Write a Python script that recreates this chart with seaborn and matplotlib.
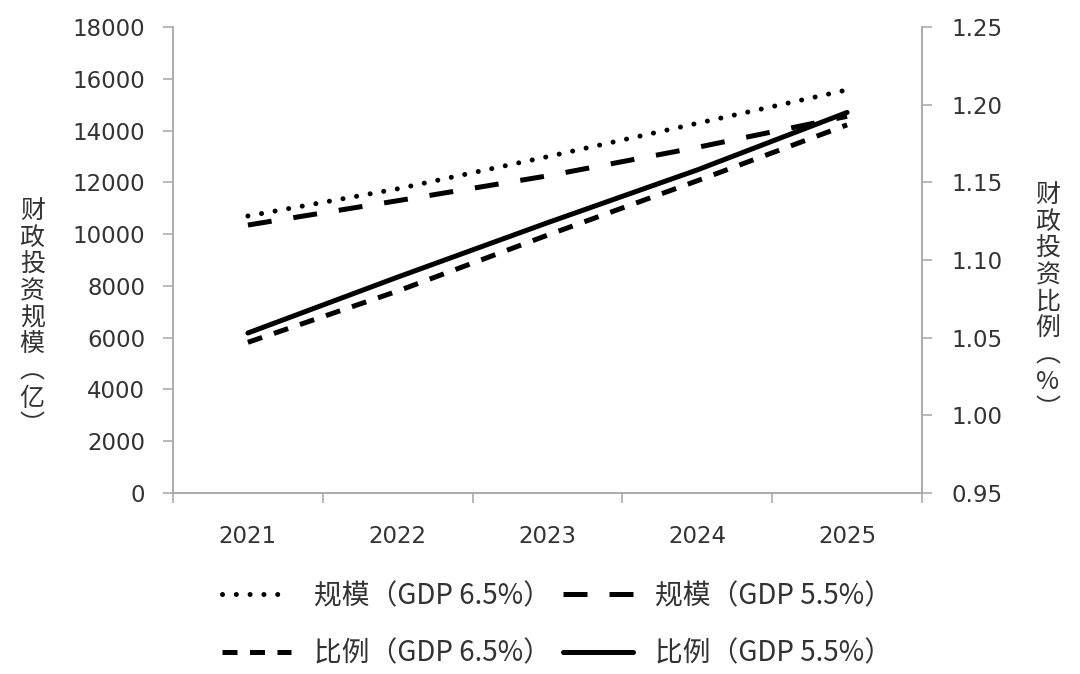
import pandas as pd
import matplotlib
matplotlib.use("Agg")
import matplotlib.pyplot as plt
import seaborn as sns

# values
years = [2021, 2022, 2023, 2024, 2025]
scale_gdp65 = [10700, 11750, 12990, 14280, 15570]   # 亿, left axis
scale_gdp55 = [10350, 11290, 12250, 13350, 14550]   # 亿, left axis
ratio_gdp65 = [1.047, 1.080, 1.116, 1.151, 1.187]   # %, right axis
ratio_gdp55 = [1.053, 1.089, 1.124, 1.158, 1.195]   # %, right axis

left_ticks = list(range(0, 18001, 2000))
right_ticks = [0.95, 1.00, 1.05, 1.10, 1.15, 1.20, 1.25]

labels = {
    'scale65': '规模（GDP 6.5%）',
    'scale55': '规模（GDP 5.5%）',
    'ratio65': '比例（GDP 6.5%）',
    'ratio55': '比例（GDP 5.5%）',
}

df_scale = pd.DataFrame({'year': years, 'scale65': scale_gdp65, 'scale55': scale_gdp55})
df_ratio = pd.DataFrame({'year': years, 'ratio65': ratio_gdp65, 'ratio55': ratio_gdp55})


def set_style():
    sns.set_theme(style='white')
    plt.rcParams['font.family'] = ['Noto Sans CJK SC', 'DejaVu Sans']
    plt.rcParams['axes.unicode_minus'] = False


set_style()
SPINE = '#a6a6a6'
TEXT = '#333333'
LW = 3.6
TICK_FS = 16.5

fig = plt.figure(figsize=(10.8, 6.74), dpi=100)
ax = fig.add_axes([173 / 1080, 1 - 493 / 674, (922 - 173) / 1080, (493 - 27) / 674])
ax2 = ax.twinx()

sns.lineplot(data=df_scale, x='year', y='scale65', ax=ax, color='black', lw=LW,
             linestyle=(0, (0.01, 2.75)), dash_capstyle='round', label=labels['scale65'])
sns.lineplot(data=df_scale, x='year', y='scale55', ax=ax, color='black', lw=LW,
             linestyle=(0, (4.8, 4.4)), dash_capstyle='butt', label=labels['scale55'])
sns.lineplot(data=df_ratio, x='year', y='ratio65', ax=ax2, color='black', lw=LW,
             linestyle=(0, (3.0, 2.5)), dash_capstyle='butt', label=labels['ratio65'])
sns.lineplot(data=df_ratio, x='year', y='ratio55', ax=ax2, color='black', lw=LW,
             linestyle='-', label=labels['ratio55'])

# category style x axis: ticks on the boundaries, labels in the middle
ax.set_xlim(years[0] - 0.5, years[-1] + 0.5)
ax.set_xticks([y - 0.5 for y in years] + [years[-1] + 0.5])
ax.set_xticklabels([])
ax.set_xticks(years, minor=True)
ax.set_xticklabels([str(y) for y in years], minor=True, family='DejaVu Sans', fontsize=TICK_FS, color=TEXT)
ax.tick_params(axis='x', which='major', direction='out', length=7, width=1.1, color=SPINE, bottom=True)
ax.tick_params(axis='x', which='minor', length=0, pad=23, bottom=True)

ax.set_ylim(0, 18000)
ax.set_yticks(left_ticks)
ax.set_yticklabels([str(t) for t in left_ticks], family='DejaVu Sans', fontsize=TICK_FS, color=TEXT)
ax.tick_params(axis='y', direction='out', length=7, width=1.1, color=SPINE, pad=13, left=True)

ax2.set_ylim(0.95, 1.25)
ax2.set_yticks(right_ticks)
ax2.set_yticklabels([f'{t:.2f}' for t in right_ticks], family='DejaVu Sans', fontsize=TICK_FS, color=TEXT)
ax2.tick_params(axis='y', direction='out', length=7, width=1.1, color=SPINE, pad=14, right=True)

ax.set_xlabel('')
ax.set_ylabel('财\n政\n投\n资\n规\n模\n︵\n亿\n︶', rotation=0, fontsize=18,
              linespacing=1.04, color=TEXT, va='center', ha='center')
ax.yaxis.set_label_coords(-0.188, 0.375)
ax2.set_ylabel('财\n政\n投\n资\n比\n例\n︵\n%\n︶', rotation=0, fontsize=18,
               linespacing=1.04, color=TEXT, va='center', ha='center')
ax2.yaxis.set_label_coords(1.168, 0.41)

for a in (ax, ax2):
    a.grid(False)
    a.spines['top'].set_visible(False)
    for s in a.spines.values():
        s.set_color(SPINE)
        s.set_linewidth(1.3)
ax.spines['right'].set_visible(False)
ax2.spines['left'].set_visible(False)
ax2.spines['bottom'].set_visible(False)

# legend below the plot, two entries per row
h1, l1 = ax.get_legend_handles_labels()
h2, l2 = ax2.get_legend_handles_labels()
for a in (ax, ax2):
    if a.get_legend() is not None:
        a.get_legend().remove()
handles = [h1[0], h2[0], h1[1], h2[1]]
texts = [l1[0], l2[0], l1[1], l2[1]]
fig.legend(handles, texts, ncol=2, loc='upper left', bbox_to_anchor=(0.2055, 0.138),
           frameon=False, fontsize=20, handlelength=2.5, handletextpad=0.8,
           columnspacing=0.45, labelspacing=1.0, borderpad=0, borderaxespad=0,
           labelcolor=TEXT)

fig.savefig('out.png', dpi=100, facecolor='white')
